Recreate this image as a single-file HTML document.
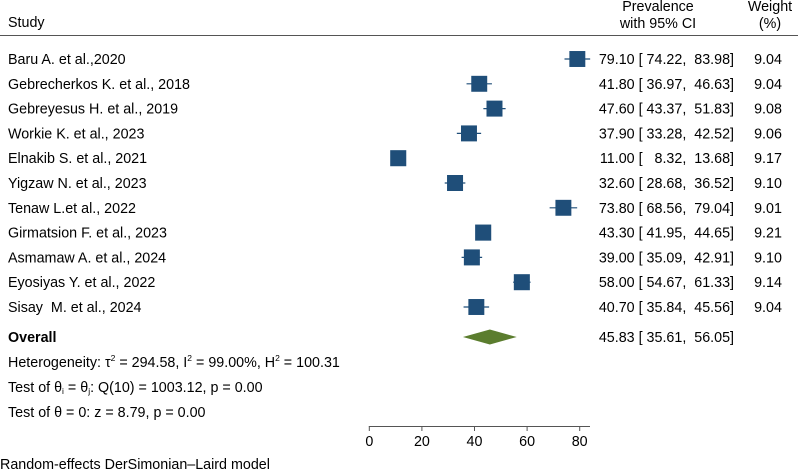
<!DOCTYPE html>
<html><head><meta charset="utf-8"><style>
html,body{margin:0;padding:0;background:#fff;}
svg{display:block;font-family:"Liberation Sans",Arial,sans-serif;font-size:14.3px;fill:#000;}
text{white-space:pre;}
</style></head><body>
<svg id="c" width="798" height="471" viewBox="0 0 798 471">
<text x="8" y="27">Study</text>
<text x="658" y="11" text-anchor="middle">Prevalence</text>
<text x="658" y="28" text-anchor="middle">with 95% CI</text>
<text x="770" y="11" text-anchor="middle">Weight</text>
<text x="770" y="28" text-anchor="middle">(%)</text>
<line x1="0" y1="35.5" x2="798" y2="35.5" stroke="#555" stroke-width="1"/>
<g id="rows"></g>
<text x="8" y="342" font-weight="bold">Overall</text>
<text x="8" y="367">Heterogeneity: τ<tspan dy="-6" font-size="8.5">2</tspan><tspan dy="6"> = 294.58, I</tspan><tspan dy="-6" font-size="8.5">2</tspan><tspan dy="6"> = 99.00%, H</tspan><tspan dy="-6" font-size="8.5">2</tspan><tspan dy="6"> = 100.31</tspan></text>
<text x="8" y="392">Test of θ<tspan font-size="8.5" dy="2">i</tspan><tspan dy="-2"> = θ</tspan><tspan font-size="8.5" dy="2">j</tspan><tspan dy="-2">: Q(10) = 1003.12, p = 0.00</tspan></text>
<text x="8" y="417">Test of θ = 0: z = 8.79, p = 0.00</text>
<text x="0" y="469">Random-effects DerSimonian–Laird model</text>
<g id="axis"></g>
</svg>
<script>
const studies=["Baru A. et al.,2020","Gebrecherkos K. et al., 2018","Gebreyesus H. et al., 2019","Workie K. et al., 2023","Elnakib S. et al., 2021","Yigzaw N. et al., 2023","Tenaw L.et al., 2022","Girmatsion F. et al., 2023","Asmamaw A. et al., 2024","Eyosiyas Y. et al., 2022","Sisay  M. et al., 2024"];
const est=[79.10,41.80,47.60,37.90,11.00,32.60,73.80,43.30,39.00,58.00,40.70];
const lo=[74.22,36.97,43.37,33.28,8.32,28.68,68.56,41.95,35.09,54.67,35.84];
const hi=[83.98,46.63,51.83,42.52,13.68,36.52,79.04,44.65,42.91,61.33,45.56];
const weights=[9.04,9.04,9.08,9.06,9.17,9.10,9.01,9.21,9.10,9.14,9.04];
const overall=[45.83,35.61,56.05];
const ticks=[0,20,40,60,80];
const NS="http://www.w3.org/2000/svg";
const x=v=>369.3+v*2.63;
const rowY=i=>59+i*24.8;
function mk(tag,attrs,parent,txt){const e=document.createElementNS(NS,tag);for(const k in attrs)e.setAttribute(k,attrs[k]);if(txt!=null)e.textContent=txt;parent.appendChild(e);return e;}
const rows=document.getElementById('rows');
const f=v=>v.toFixed(2).padStart(6,'\u2007');
const lab=(e,l,h)=>e.toFixed(2)+' [ '+f(l).slice(1)+',\u2007'+f(h).slice(1)+']';
studies.forEach((s,i)=>{
  const y=rowY(i);
  const t=mk('text',{x:8,y:y+5},rows,s);
  
  
  const l=mk('line',{x1:x(lo[i]),x2:x(hi[i]),y1:y,y2:y,stroke:'#1f4e79','stroke-width':1.2},rows);
  
  
  const sz=16*Math.sqrt(weights[i]/9.1);
  const b=mk('rect',{x:x(est[i])-sz/2,y:y-sz/2,width:sz,height:sz,fill:'#1f4e79'},rows);
  
  
  const v=mk('text',{x:734,y:y+5,'text-anchor':'end'},rows,lab(est[i],lo[i],hi[i]));
  
  
  const w=mk('text',{x:768,y:y+5,'text-anchor':'middle'},rows,weights[i].toFixed(2));
  
  
});
const oy=337;
const d=mk('polygon',{points:`${x(overall[1])},${oy} ${x(overall[0])},${oy-7.5} ${x(overall[2])},${oy} ${x(overall[0])},${oy+7.5}`,fill:'#5b7d2e'},rows);


const ot=mk('text',{x:734,y:oy+5,'text-anchor':'end'},rows,lab(overall[0],overall[1],overall[2]));


const ax=document.getElementById('axis');
const al=mk('line',{x1:x(0)-0.5,x2:590,y1:426.5,y2:426.5,stroke:'#555','stroke-width':1},ax);


ticks.forEach(t=>{
  const tk=mk('line',{x1:x(t),x2:x(t),y1:426.5,y2:431,stroke:'#555','stroke-width':1},ax);
  
  
  const tl=mk('text',{x:x(t),y:446,'text-anchor':'middle'},ax,String(t));
  
  
});
</script>
</body></html>
